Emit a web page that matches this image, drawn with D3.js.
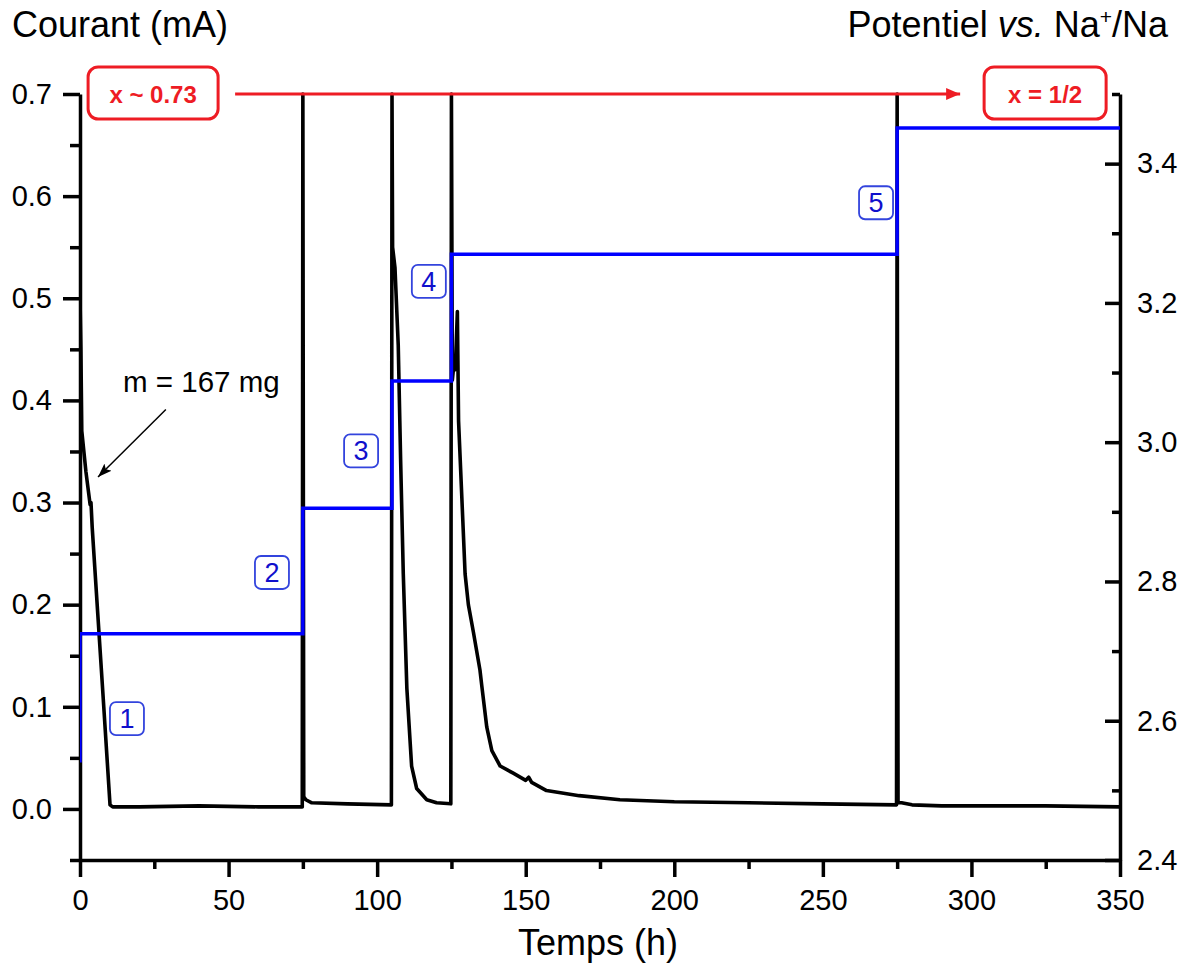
<!DOCTYPE html>
<html><head><meta charset="utf-8">
<script src="https://cdn.jsdelivr.net/npm/d3@7"></script>
<style>
body{margin:0;background:#fff;}
text{font-family:"Liberation Sans",Arial,sans-serif;}
</style></head>
<body>
<svg id="c" width="1194" height="969"></svg>
<script>
// ---- data ----
// Current (mA) vs time (h)
const timeH = [0,0.3,0.6,2,3.4,3.7,4.1,6,8,10.1,11,20,40,60,74.8,
  75,75.3,76,78,90,104.8,
  105,105.2,106,107.1,107.9,108.8,110,111.6,113.3,116.7,120,124.8,
  125,125.3,126,126.3,127,127.4,128.5,129.6,130.7,132.4,134.6,135.2,136.9,138.6,141.4,145.8,150,151,152,157,168,181.7,200,225,250,274.8,
  275,275.3,276.5,280,290,300,325,350];
const currentMA = [0.50,0.45,0.37,0.33,0.298,0.30,0.276,0.19,0.10,0.004,0.002,0.002,0.003,0.002,0.002,
  0.70,0.012,0.009,0.006,0.005,0.004,
  0.70,0.55,0.53,0.454,0.342,0.23,0.118,0.042,0.020,0.009,0.006,0.005,
  0.70,0.42,0.44,0.43,0.487,0.38,0.305,0.23,0.20,0.173,0.136,0.121,0.080,0.057,0.042,0.035,0.028,0.031,0.026,0.018,0.013,0.009,0.007,0.006,0.005,0.004,
  0.70,0.006,0.006,0.004,0.003,0.003,0.003,0.002];
// Potential steps (V vs Na+/Na)
const stepStart = [0,0,75,105,125,275,350];
const stepPotential = [2.54,2.725,2.905,3.088,3.27,3.451,3.451];
// step labels
const stepLabels = ["1","2","3","4","5"];
const stepLabelT = [15.8,64.6,94.6,117.4,267.9];
const stepLabelI = [0.089,0.232,0.351,0.517,0.594];
// ticks
const xTicks = [0,50,100,150,200,250,300,350];
const xMinor = [25,75,125,175,225,275,325];
const yLTicks = [0,0.1,0.2,0.3,0.4,0.5,0.6,0.7];
const yLMinor = [-0.05,0.05,0.15,0.25,0.35,0.45,0.55,0.65];
const yRTicks = [2.4,2.6,2.8,3.0,3.2,3.4];
const yRMinor = [2.5,2.7,2.9,3.1,3.3,3.5];
// annotations
const compLeft = "x ~ 0.73", compRight = "x = 1/2";
const compT = [24.6, 324.8];
const arrowT = [52.2, 296.2];
const massText = "m = 167 mg";

// ---- drawing ----
const svg = d3.select("#c");
const x = d3.scaleLinear().domain([0,350]).range([80,1120]);
const yL = d3.scaleLinear().domain([-0.05,0.7]).range([860,94]);
const yR = d3.scaleLinear().domain([2.4,3.5]).range([860,94]);
const FS = 29;

const defs = svg.append("defs");
defs.append("clipPath").attr("id","plot").append("rect")
  .attr("x",80).attr("y",92).attr("width",1040).attr("height",768);
defs.append("marker").attr("id","ar").attr("viewBox","0 0 14 12").attr("refX",14).attr("refY",6)
  .attr("markerWidth",14).attr("markerHeight",12).attr("markerUnits","userSpaceOnUse").attr("orient","auto")
  .append("path").attr("d","M0,0L14,6L0,12Z").attr("fill","#ee1c24");
defs.append("marker").attr("id","ak").attr("viewBox","0 0 14 10").attr("refX",14).attr("refY",5)
  .attr("markerWidth",14).attr("markerHeight",10).attr("markerUnits","userSpaceOnUse").attr("orient","auto")
  .append("path").attr("d","M0,0L14,5L0,10L3,5Z").attr("fill","#000");

// axes
function styleAxis(g){
  g.selectAll("path.domain").attr("stroke","#000").attr("stroke-width",3.5);
  g.selectAll(".tick line").attr("stroke","#000").attr("stroke-width",3.5);
  g.selectAll("text").attr("font-size",FS).attr("fill","#000").attr("font-family",'"Liberation Sans",Arial,sans-serif');
}
// bottom
const gx = svg.append("g").attr("transform","translate(0,860)")
  .call(d3.axisBottom(x).tickValues(xTicks).tickSizeInner(17).tickSizeOuter(0).tickPadding(12).tickFormat(d3.format("d")));
styleAxis(gx);
const gxm = svg.append("g").attr("transform","translate(0,860)")
  .call(d3.axisBottom(x).tickValues(xMinor).tickSize(9).tickFormat(""));
styleAxis(gxm); gxm.select("path.domain").remove();
// left
const gl = svg.append("g").attr("transform","translate(80,0)")
  .call(d3.axisLeft(yL).tickValues(yLTicks).tickSizeInner(17).tickSizeOuter(0).tickPadding(11).tickFormat(d3.format(".1f")));
styleAxis(gl);
const glm = svg.append("g").attr("transform","translate(80,0)")
  .call(d3.axisLeft(yL).tickValues(yLMinor).tickSize(10).tickFormat(""));
styleAxis(glm); glm.select("path.domain").remove();
// right (ticks inward)
const gr = svg.append("g").attr("transform","translate(1120,0)")
  .call(d3.axisRight(yR).tickValues(yRTicks).tickSizeInner(-15).tickSizeOuter(0).tickPadding(32).tickFormat(d3.format(".1f")));
styleAxis(gr);
gr.selectAll("text").attr("x",17);
const grm = svg.append("g").attr("transform","translate(1120,0)")
  .call(d3.axisRight(yR).tickValues(yRMinor).tickSize(-8).tickFormat(""));
styleAxis(grm); grm.select("path.domain").remove();

// axis titles
svg.append("text").attr("x",12).attr("y",37).attr("font-size",36).text("Courant (mA)");
const pt = svg.append("text").attr("x",1168).attr("y",37).attr("font-size",36).attr("text-anchor","end");
pt.append("tspan").text("Potentiel ");
pt.append("tspan").attr("font-style","italic").text("vs.");
pt.append("tspan").text(" Na");
pt.append("tspan").attr("font-size",21).attr("dy",-13).text("+");
pt.append("tspan").attr("dy",13).text("/Na");
svg.append("text").attr("x",598).attr("y",955).attr("font-size",36).attr("text-anchor","middle").text("Temps (h)");

// data lines
const plot = svg.append("g").attr("clip-path","url(#plot)");
const curData = timeH.map((t,i)=>[t,currentMA[i]]);
plot.append("path").datum(curData)
  .attr("d", d3.line().x(d=>x(d[0])).y(d=>yL(d[1])))
  .attr("fill","none").attr("stroke","#000").attr("stroke-width",3.6).attr("stroke-linejoin","round");
const potData = stepStart.map((t,i)=>[t,stepPotential[i]]);
plot.append("path").datum(potData)
  .attr("d", d3.line().x(d=>x(d[0])).y(d=>yR(d[1])).curve(d3.curveStepAfter))
  .attr("fill","none").attr("stroke","#0000ff").attr("stroke-width",3.5);

// step labels
stepLabels.forEach((s,i)=>{
  const cx = x(stepLabelT[i]), cy = yL(stepLabelI[i]);
  svg.append("rect").attr("x",cx-17).attr("y",cy-16).attr("width",34).attr("height",33).attr("rx",6)
    .attr("fill","#fff").attr("stroke","#3344dd").attr("stroke-width",1.8);
  svg.append("text").attr("x",cx).attr("y",cy+10).attr("text-anchor","middle")
    .attr("font-size",27).attr("fill","#1010cc").text(s);
});

// composition annotation
svg.append("line").attr("x1",x(arrowT[0])).attr("x2",x(arrowT[1])).attr("y1",yL(0.7)).attr("y2",yL(0.7))
  .attr("stroke","#ee1c24").attr("stroke-width",3).attr("marker-end","url(#ar)");
[[compLeft,130],[compRight,122]].forEach(([s,w],i)=>{
  const cx = x(compT[i]), cy = yL(0.7);
  svg.append("rect").attr("x",cx-w/2).attr("y",cy-27).attr("width",w).attr("height",52).attr("rx",10)
    .attr("fill","#fff").attr("stroke","#ee1c24").attr("stroke-width",3);
  svg.append("text").attr("x",cx).attr("y",cy+9).attr("text-anchor","middle").attr("font-size",24)
    .attr("font-weight","bold").attr("fill","#ee1c24").text(s);
});

// mass annotation
svg.append("text").attr("x",x(14.5)).attr("y",yL(0.408)).attr("font-size",29.5).text(massText);
svg.append("line").attr("x1",x(28.9)).attr("y1",yL(0.391)).attr("x2",x(6.06)).attr("y2",yL(0.325))
  .attr("stroke","#000").attr("stroke-width",1.5).attr("marker-end","url(#ak)");
</script>
</body></html>
